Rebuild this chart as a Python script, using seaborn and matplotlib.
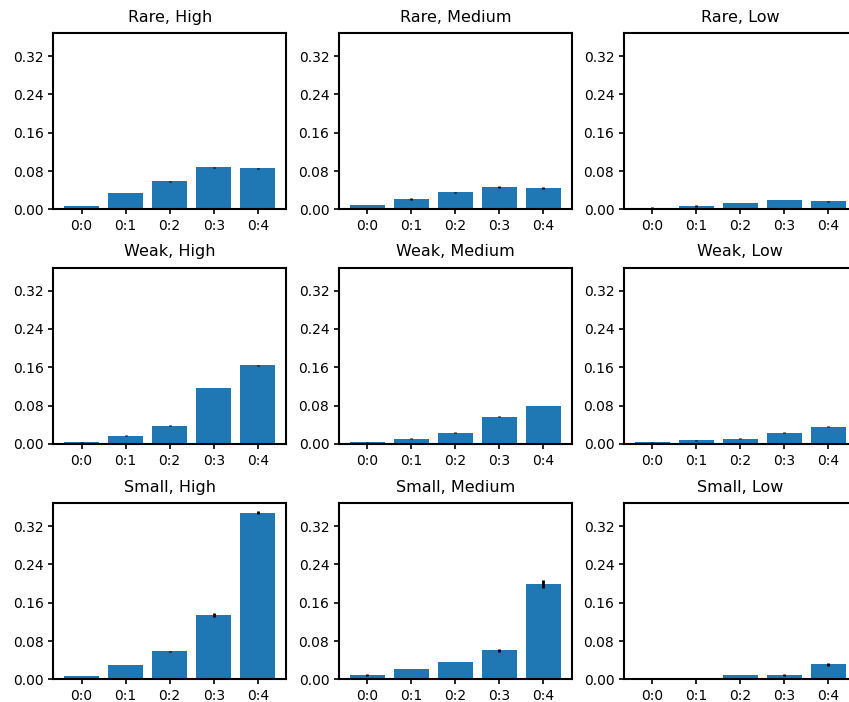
import matplotlib
matplotlib.use("Agg")
import matplotlib.pyplot as plt
import seaborn as sns
import pandas as pd
import numpy as np

categories = ["0:0", "0:1", "0:2", "0:3", "0:4"]
row_names = ["Rare", "Weak", "Small"]
col_names = ["High", "Medium", "Low"]

# mean values per panel
rare_high = [0.007, 0.034, 0.059, 0.088, 0.086]
rare_medium = [0.009, 0.0215, 0.036, 0.0465, 0.0445]
rare_low = [0.003, 0.007, 0.013, 0.0195, 0.017]
weak_high = [0.003, 0.017, 0.038, 0.1165, 0.164]
weak_medium = [0.003, 0.011, 0.0235, 0.0565, 0.079]
weak_low = [0.003, 0.007, 0.011, 0.0235, 0.036]
small_high = [0.007, 0.0297, 0.0586, 0.135, 0.348]
small_medium = [0.009, 0.0214, 0.036, 0.0605, 0.199]
small_low = [0.003, 0.003, 0.009, 0.009, 0.0317]

# error half-widths per panel
rare_high_err = [0.0005, 0.0008, 0.001, 0.0012, 0.001]
rare_medium_err = [0.0008, 0.0012, 0.0012, 0.002, 0.0015]
rare_low_err = [0.0008, 0.0015, 0.0008, 0.0008, 0.001]
weak_high_err = [0.0005, 0.0008, 0.0008, 0.0008, 0.0008]
weak_medium_err = [0.0005, 0.0012, 0.0008, 0.0015, 0.0005]
weak_low_err = [0.0008, 0.0008, 0.0008, 0.0008, 0.0008]
small_high_err = [0.0008, 0.0005, 0.0005, 0.004, 0.003]
small_medium_err = [0.0018, 0.0008, 0.0008, 0.003, 0.008]
small_low_err = [0.0005, 0.0005, 0.0008, 0.0012, 0.003]

values = [[rare_high, rare_medium, rare_low],
          [weak_high, weak_medium, weak_low],
          [small_high, small_medium, small_low]]
errors = [[rare_high_err, rare_medium_err, rare_low_err],
          [weak_high_err, weak_medium_err, weak_low_err],
          [small_high_err, small_medium_err, small_low_err]]

W, H = 849, 702
fig = plt.figure(figsize=(W / 100, H / 100), dpi=100)

col_left = [53.3, 339.0, 624.0]
row_top = [33.0, 267.5, 503.0]
ax_w, ax_h = 232.7, 176.3

ymax = max(max(np.add(v, e)) for rv, re in zip(values, errors) for v, e in zip(rv, re)) * 1.05
yticks = [0.0, 0.08, 0.16, 0.24, 0.32]

for i, rname in enumerate(row_names):
    for j, cname in enumerate(col_names):
        ax = fig.add_axes([col_left[j] / W, 1 - (row_top[i] + ax_h) / H, ax_w / W, ax_h / H])
        df = pd.DataFrame({"cat": categories, "val": values[i][j]})
        sns.barplot(data=df, x="cat", y="val", color="#1f77b4", saturation=1,
                    width=0.8, errorbar=None, ax=ax)
        ax.errorbar(np.arange(len(categories)), values[i][j], yerr=errors[i][j],
                    fmt="none", ecolor="black", elinewidth=2, capsize=0)
        ax.set_xlim(-0.64, 4.64)
        ax.set_ylim(0, ymax)
        ax.set_yticks(yticks)
        ax.set_yticklabels([f"{t:.2f}" for t in yticks])
        ax.set_xlabel("")
        ax.set_ylabel("")
        ax.set_title(f"{rname}, {cname}", fontsize=11.5, pad=8)
        for s in ax.spines.values():
            s.set_linewidth(1.5)
        ax.tick_params(labelsize=10, width=1.2)

fig.savefig("out.png", dpi=100)
